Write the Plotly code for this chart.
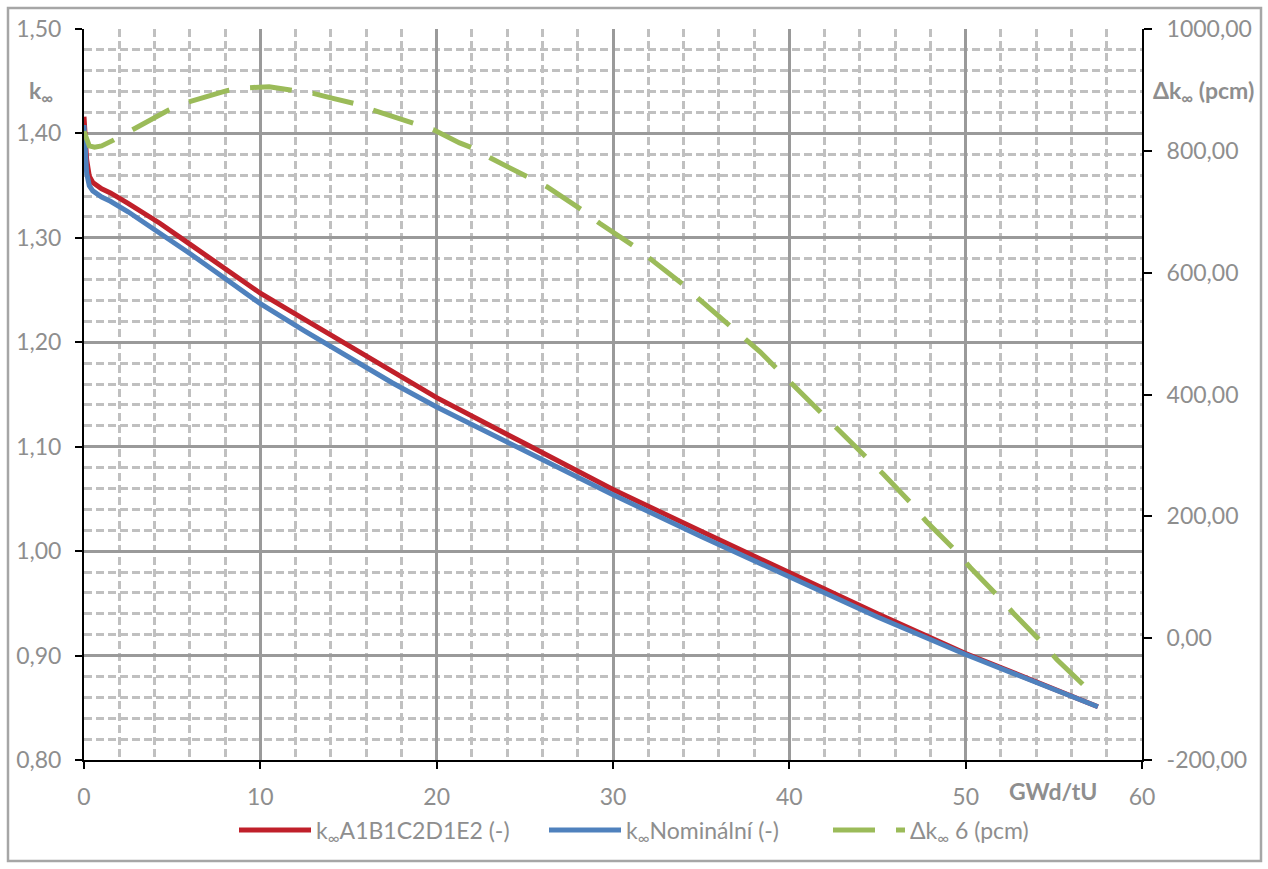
import plotly.graph_objects as go

# ---------------- data ----------------
burnup_k = [0, 0.05, 0.15, 0.3, 0.5, 1.0, 1.5, 2.5, 4.3, 6, 8, 10, 12.5, 15, 17.5,
            20, 25, 30, 35, 40, 45, 50, 54, 57.5]
k_a1b1 = [1.416, 1.400, 1.375, 1.359, 1.353, 1.347, 1.343, 1.333, 1.314, 1.294, 1.270,
          1.247, 1.222, 1.197, 1.172, 1.147, 1.103, 1.059, 1.019, 0.979, 0.940, 0.902,
          0.875, 0.851]
k_nom = [1.408, 1.385, 1.362, 1.350, 1.345, 1.339, 1.335, 1.325, 1.305, 1.285, 1.261,
         1.237, 1.211, 1.186, 1.161, 1.138, 1.096, 1.054, 1.014, 0.975, 0.937, 0.901,
         0.874, 0.851]

burnup_d = [0, 0.1, 0.3, 0.6, 1.0, 1.7, 2.7, 3.8, 4.8, 5.9, 7, 8.1, 9.4, 10.5, 11.7,
            13, 14, 15.3, 16.4, 17.5, 18.7, 19.8, 21.3, 22, 23, 25.15, 26.25, 28.24,
            29.24, 31.17, 32.16, 34, 34.9, 36.68, 37.68, 38.34, 40.23, 41.9, 42.78,
            44.43, 45.34, 46.95, 47.76, 49.41, 50.26, 51.86, 52.71, 54.32, 55.17,
            56.83, 57.5]
dk6 = [832, 822, 808, 806, 808, 818, 834, 851, 867, 880, 890, 898.8, 903.7, 905.3, 900,
       894.4, 887, 878, 867, 857, 846, 835, 813, 805, 789, 757.6, 741, 703, 681, 644,
       622, 580, 556, 511, 487, 470, 415, 368, 343, 295, 269, 220, 192, 144, 116, 68,
       41, -7, -35, -81, -98]

x_ticks = [0, 10, 20, 30, 40, 50, 60]
x_labels = ["0", "10", "20", "30", "40", "50", "60"]
y_ticks = [0.8, 0.9, 1.0, 1.1, 1.2, 1.3, 1.4, 1.5]
y_labels = ["0,80", "0,90", "1,00", "1,10", "1,20", "1,30", "1,40", "1,50"]
y2_ticks = [-200, 0, 200, 400, 600, 800, 1000]
y2_labels = ["-200,00", "0,00", "200,00", "400,00", "600,00", "800,00", "1000,00"]

names = ["k<sub>∞</sub>A1B1C2D1E2 (-)", "k<sub>∞</sub>Nominální (-)", "Δk<sub>∞</sub> 6 (pcm)"]

# ---------------- layout constants ----------------
W, H = 1268, 869
L, R, T, B = 84, 1142, 29, 760
FONT = "Lato"
GREY = "#8E8E8E"
FS = 23


def px_x(px):
    return (px - L) / (R - L)


def px_y(py):
    return (B - py) / (B - T)


fig = go.Figure()
fig.add_trace(go.Scatter(x=burnup_k, y=k_a1b1, mode="lines", name=names[0],
                         legend="legend",
                         line=dict(color="#C0202A", width=5)))
fig.add_trace(go.Scatter(x=burnup_k, y=k_nom, mode="lines", name=names[1],
                         legend="legend2",
                         line=dict(color="#4F81BD", width=5)))
fig.add_trace(go.Scatter(x=burnup_d, y=dk6, mode="lines", name=names[2], yaxis="y2",
                         legend="legend3",
                         line=dict(color="#9BBB59", width=5, dash="42px,21px")))

tickfont = dict(family=FONT, size=FS, color=GREY)


def legend_at(px_left):
    return dict(orientation="h", x=px_x(px_left), y=px_y(830), xanchor="left",
                yanchor="middle", font=dict(family=FONT, size=FS, color=GREY),
                itemwidth=72, bgcolor="rgba(0,0,0,0)")


fig.update_layout(
    width=W, height=H,
    margin=dict(l=L, r=W - R, t=T, b=H - B),
    paper_bgcolor="white", plot_bgcolor="white",
    font=dict(family=FONT, size=FS, color=GREY),
    showlegend=True,
    legend=legend_at(234),
    legend2=legend_at(544),
    legend3=legend_at(828),
    xaxis=dict(range=[0, 60], tickmode="array", tickvals=x_ticks, ticktext=x_labels,
               showline=True, linecolor="black", linewidth=2,
               ticks="outside", ticklen=7, tickwidth=2, tickcolor="black",
               showgrid=True, gridcolor="#9A9A9A", gridwidth=2.5, zeroline=False,
               tickfont=tickfont, ticklabelstandoff=8,
               minor=dict(dtick=2, tick0=0, showgrid=True, gridcolor="#C0C0C0",
                          gridwidth=2.5, griddash="8px,4px", ticks="")),
    yaxis=dict(range=[0.8, 1.5], tickmode="array", tickvals=y_ticks, ticktext=y_labels,
               showline=True, linecolor="black", linewidth=2,
               ticks="outside", ticklen=7, tickwidth=2, tickcolor="black",
               showgrid=True, gridcolor="#9A9A9A", gridwidth=2.5, zeroline=False,
               tickfont=tickfont, ticklabelstandoff=9,
               minor=dict(dtick=0.02, tick0=0.8, showgrid=True, gridcolor="#C0C0C0",
                          gridwidth=2.5, griddash="8px,4px", ticks="")),
    yaxis2=dict(range=[-200, 1000], overlaying="y", side="right", anchor="x",
                tickmode="array", tickvals=y2_ticks, ticktext=y2_labels,
                showline=True, linecolor="black", linewidth=2,
                ticks="outside", ticklen=8, tickwidth=2, tickcolor="black",
                showgrid=False, zeroline=False, tickfont=tickfont,
                ticklabelstandoff=10),
)

fig.add_annotation(x=px_x(41), y=px_y(91), xref="paper", yref="paper",
                   xanchor="center", yanchor="middle",
                   text="<b>k<sub>∞</sub></b>", showarrow=False,
                   font=dict(family=FONT, size=FS, color=GREY))
fig.add_annotation(x=px_x(1203), y=px_y(91), xref="paper", yref="paper",
                   xanchor="center", yanchor="middle",
                   text="<b>Δk<sub>∞</sub> (pcm)</b>", showarrow=False,
                   font=dict(family=FONT, size=FS, color=GREY))
fig.add_annotation(x=px_x(1053), y=px_y(791), xref="paper", yref="paper",
                   xanchor="center", yanchor="middle",
                   text="<b>GWd/tU</b>", showarrow=False,
                   font=dict(family=FONT, size=FS, color=GREY))

# chart outer frame
fig.add_shape(type="rect", xref="paper", yref="paper",
              x0=px_x(8), x1=px_x(1261), y0=px_y(861), y1=px_y(8),
              line=dict(color="#A6A6A6", width=2.5), fillcolor="rgba(0,0,0,0)",
              layer="below")

fig.write_html("out.html")
